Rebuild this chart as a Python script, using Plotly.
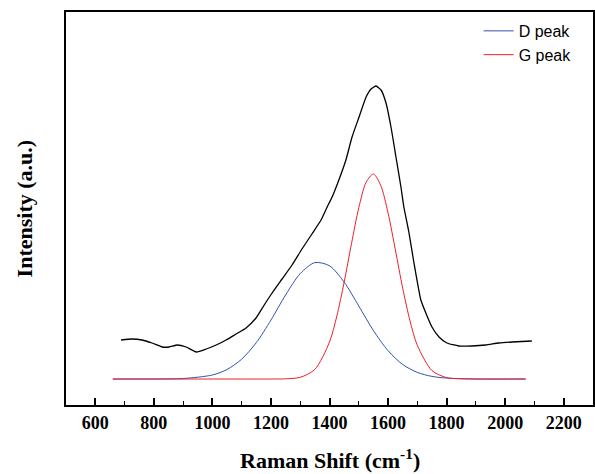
import plotly.graph_objects as go

# Raw Raman spectrum
raman_shift = [688, 726, 760, 794, 829, 852, 880, 910, 945, 979, 1013, 1047, 1081, 1115,
               1149, 1177, 1204, 1238, 1272, 1306, 1340, 1371, 1392, 1409, 1432, 1456,
               1477, 1501, 1525, 1542, 1559, 1576, 1593, 1610, 1627, 1644, 1654, 1671,
               1688, 1712, 1729, 1750, 1774, 1801, 1842, 1886, 1934, 1978, 2023, 2091]
intensity = [65, 66, 65, 62, 58, 58, 60, 58, 53, 56, 60, 65, 71, 77,
             87, 100, 112, 126, 140, 156, 171, 185, 198, 208, 225, 245,
             268, 288, 308, 316, 319, 315, 302, 278, 248, 218, 198, 173,
             143, 105, 92, 78, 68, 62, 59, 59, 60, 62, 63, 64]

# D peak fit
d_shift = [660, 800, 900, 1000, 1050, 1100, 1150, 1200, 1250, 1300, 1350, 1400, 1450,
           1500, 1550, 1600, 1650, 1700, 1750, 1800, 1900, 2070]
d_int = [26, 26, 26.5, 30, 35.5, 45.8, 62.4, 84.9, 110, 131.4, 142.4, 139.2, 122.9,
         99, 74.4, 54.3, 40.5, 32.6, 28.6, 26.9, 26, 26]

# G peak fit
g_shift = [660, 1100, 1200, 1250, 1300, 1350, 1400, 1425, 1450, 1475, 1500, 1525, 1550,
           1575, 1600, 1625, 1650, 1675, 1700, 1750, 1800, 1850, 1900, 2070]
g_int = [26, 26, 26, 26.2, 27.7, 35.6, 63, 88.9, 122.8, 161.2, 197.2, 222.7, 231,
         219.6, 192, 155, 116.9, 84.1, 59.7, 34.4, 27.4, 26.2, 26, 26]

x_ticks = [600, 800, 1000, 1200, 1400, 1600, 1800, 2000, 2200]

fig = go.Figure()
fig.add_trace(go.Scatter(x=raman_shift, y=intensity, mode="lines",
                         line=dict(color="black", width=1.3, shape="spline", smoothing=0.5),
                         showlegend=False))
fig.add_trace(go.Scatter(x=d_shift, y=d_int, mode="lines", name="D peak",
                         line=dict(color="rgb(50,80,180)", width=1.0, shape="spline", smoothing=0.8)))
fig.add_trace(go.Scatter(x=g_shift, y=g_int, mode="lines", name="G peak",
                         line=dict(color="rgb(240,30,40)", width=1.0, shape="spline", smoothing=0.8)))

serif = "Liberation Serif, Times New Roman, serif"
fig.update_layout(
    width=595, height=474,
    margin=dict(l=66, r=2, t=12, b=69),
    plot_bgcolor="white", paper_bgcolor="white",
    legend=dict(x=0.783, y=0.995, xanchor="left", yanchor="top",
                bgcolor="rgba(0,0,0,0)", font=dict(family="Liberation Sans, Arial", size=16, color="black"),
                tracegroupgap=0),
    xaxis=dict(range=[500, 2300], tickvals=x_ticks, ticks="inside", ticklen=7, tickwidth=1.5,
               tickcolor="black", showline=True, linecolor="black", linewidth=2, mirror=True,
               showgrid=False, zeroline=False, automargin=False,
               minor=dict(ticks="inside", ticklen=4, dtick=100, tick0=500, tickcolor="black", tickwidth=1.3),
               tickfont=dict(family=serif, size=18, color="black", weight="bold")),
    yaxis=dict(range=[0, 393], showticklabels=False, ticks="", showline=True, linecolor="black",
               linewidth=2, mirror=True, showgrid=False, zeroline=False, automargin=False),
    annotations=[
        dict(text="<b>Raman Shift (cm<sup>-1</sup>)</b>", xref="paper", yref="paper",
             x=0.501, y=-0.138, xanchor="center", yanchor="middle", showarrow=False,
             font=dict(family=serif, size=22, color="black")),
        dict(text="<b>Intensity (a.u.)</b>", xref="paper", yref="paper",
             x=-0.078, y=0.5, xanchor="center", yanchor="middle", showarrow=False, textangle=-90,
             font=dict(family=serif, size=22, color="black")),
    ],
)
fig.write_html("out.html", config={"displayModeBar": False},
               post_script="document.body.style.margin='0';")
